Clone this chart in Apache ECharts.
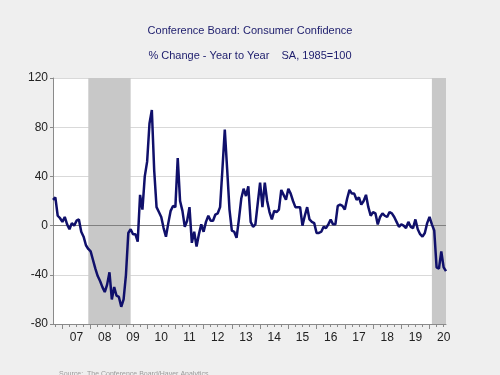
<!DOCTYPE html>
<html>
<head>
<meta charset="utf-8">
<script src="https://cdn.jsdelivr.net/npm/echarts@6/dist/echarts.min.js"></script>
<style>
  html, body { margin: 0; padding: 0; background: #efefef; }
  #chart { width: 500px; height: 375px; }
</style>
</head>
<body>
<div id="chart"></div>
<script>
// monthly series starts Sep 2006
const startYear = 2006;
const startMonth = 9;
// % change, year to year
const confidence = [
  21, 23, 8, 6,
  3, 7, 1, -3, 2, 0, 4, 5, -5, -9, -16, -19,
  -21, -28, -35, -41, -45, -50, -54, -48, -38, -60, -50, -57,
  -58, -66, -60, -40, -6, -3, -7, -7, -13, 25, 13, 40,
  52, 83, 94, 45, 15, 11, 7, -2, -9, 2, 12, 16,
  15, 55, 20, 12, -1, 4, 15, -14, -5, -17, -7, 1,
  -5, 3, 8, 4, 4, 9, 10, 15, 46, 78, 46, 13,
  -4, -5, -10, 5, 22, 30, 24, 32, 3, -1, 1, 18,
  35, 15, 35, 20, 11, 5, 12, 11, 13, 29, 25, 21,
  30, 26, 20, 15, 15, 15, 0, 8, 15, 5, 3, 2,
  -6, -6, -5, -1, -2, 1, 5, 1, 1, 16, 17, 16,
  13, 22, 29, 26, 26, 21, 23, 17, 20, 25, 15, 8,
  11, 10, 1, 7, 10, 8, 7, 11, 10, 7, 3, -1,
  1, 0, -2, 3, -1, -2, 5, -3, -7, -9, -6, 2,
  7, 1, -4, -34, -35, -21, -34, -37
];
const recessions = [['2007-12', '2009-06'], ['2020-02', '2020-08']];
const yTicks = { min: -80, max: 120, step: 40 };
const titleText = 'Conference Board: Consumer Confidence';
const subText = '% Change - Year to Year    SA, 1985=100';
const sourceText = 'Source:  The Conference Board/Haver Analytics';

const months = confidence.map(function (v, i) {
  const t = startYear * 12 + (startMonth - 1) + i;
  const y = Math.floor(t / 12), m = t % 12 + 1;
  return y + '-' + (m < 10 ? '0' + m : m);
});
const monthOf = function (s) { return +s.slice(5); };

const chart = echarts.init(document.getElementById('chart'));
chart.setOption({
  backgroundColor: '#efefef',
  animation: false,
  title: [{
    text: titleText,
    left: 'center',
    top: 20,
    textStyle: { color: '#1c1c6c', fontSize: 11, fontWeight: 'normal', fontFamily: 'Liberation Sans' }
  }, {
    text: subText,
    left: 'center',
    top: 45,
    textStyle: { color: '#1c1c6c', fontSize: 11, fontWeight: 'normal', fontFamily: 'Liberation Sans' }
  }, {
    text: sourceText,
    left: 54,
    top: 366,
    textStyle: { color: '#9a9a9a', fontSize: 7, fontWeight: 'normal', fontFamily: 'Liberation Sans' }
  }],
  grid: {
    left: 53, right: 54, top: 78, bottom: 51,
    show: true, backgroundColor: '#ffffff', borderWidth: 0
  },
  xAxis: [{
    type: 'category',
    data: months,
    boundaryGap: false,
    axisLine: { onZero: false, lineStyle: { color: '#8a8a8a', width: 1 } },
    axisTick: {
      length: 3,
      lineStyle: { color: '#8a8a8a' },
      interval: function (i, v) { return (monthOf(v) - 1) % 3 === 0; }
    },
    axisLabel: {
      color: '#222',
      fontSize: 12,
      fontFamily: 'Liberation Sans',
      margin: 8,
      interval: function (i, v) { return monthOf(v) === 7; },
      formatter: function (v) { return v.slice(2, 4); }
    },
    splitLine: { show: false }
  }, {
    // longer ticks at year boundaries
    type: 'category',
    data: months,
    boundaryGap: false,
    position: 'bottom',
    axisLine: { show: false, onZero: false },
    axisTick: {
      length: 5,
      lineStyle: { color: '#8a8a8a' },
      interval: function (i, v) { return monthOf(v) === 1; }
    },
    axisLabel: { show: false }
  }],
  yAxis: {
    type: 'value',
    min: yTicks.min,
    max: yTicks.max,
    interval: yTicks.step,
    axisLine: { show: true, lineStyle: { color: '#8a8a8a' } },
    axisTick: { show: true, length: 3, lineStyle: { color: '#8a8a8a' } },
    axisLabel: { color: '#222', fontSize: 12, fontFamily: 'Liberation Sans', margin: 5 },
    splitLine: { lineStyle: { color: '#d9d9d9', width: 1 } }
  },
  series: [{
    type: 'line',
    data: confidence,
    showSymbol: false,
    lineStyle: { color: '#10106b', width: 2.5 },
    z: 5,
    markArea: {
      silent: true,
      itemStyle: { color: '#c8c8c8' },
      data: recessions.map(function (r) { return [{ xAxis: r[0] }, { xAxis: r[1] }]; })
    },
    markLine: {
      silent: true,
      symbol: 'none',
      label: { show: false },
      lineStyle: { color: '#808080', width: 1, type: 'solid' },
      data: [{ yAxis: 0 }]
    }
  }]
});
</script>
</body>
</html>
